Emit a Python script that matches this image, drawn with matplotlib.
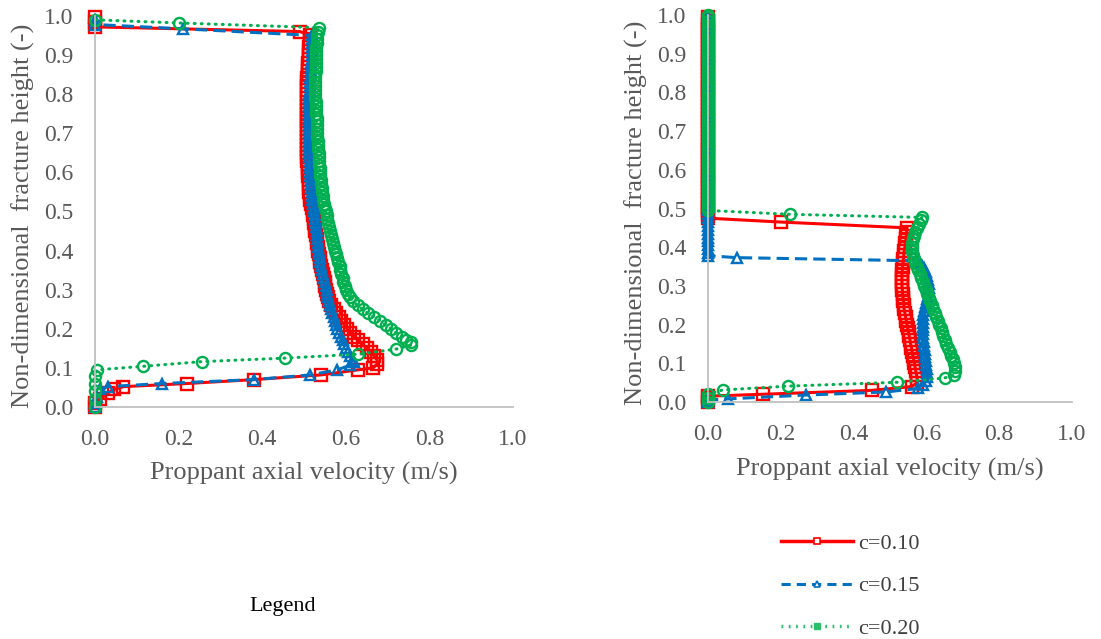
import matplotlib.pyplot as plt
from matplotlib.lines import Line2D

plt.rcParams['font.family'] = ['Liberation Serif', 'DejaVu Serif']

labels = ['c=0.10', 'c=0.15', 'c=0.20']
colors = ['#FF0000', '#0070C0', '#00B050']

# ---- case 1 (left panel): velocity (m/s) against non-dimensional height ----
a_red_v = [0.0, 0.0, 0.012, 0.03, 0.045, 0.068, 0.22, 0.38, 0.54, 0.63, 0.665, 0.675,
           0.675, 0.668, 0.66, 0.65, 0.64, 0.63, 0.62, 0.61, 0.603, 0.596, 0.589, 0.583,
           0.577, 0.571, 0.565, 0.56, 0.557, 0.555, 0.553, 0.551, 0.549, 0.547, 0.545, 0.542,
           0.54, 0.538, 0.537, 0.535, 0.534, 0.533, 0.531, 0.53, 0.529, 0.527, 0.526, 0.525,
           0.523, 0.522, 0.521, 0.519, 0.517, 0.515, 0.514, 0.513, 0.512, 0.511, 0.511, 0.51,
           0.51, 0.509, 0.509, 0.508, 0.508, 0.507, 0.507, 0.507, 0.506, 0.506, 0.506, 0.506,
           0.506, 0.506, 0.506, 0.506, 0.506, 0.506, 0.506, 0.506, 0.506, 0.507, 0.507, 0.508,
           0.508, 0.509, 0.509, 0.51, 0.51, 0.511, 0.511, 0.512, 0.513, 0.514, 0.515, 0.515,
           0.49, 0.0, 0.0, 0.0]
a_red_h = [0.0, 0.01, 0.02, 0.035, 0.045, 0.052, 0.06, 0.07, 0.082, 0.095, 0.10, 0.11,
           0.12, 0.13, 0.14, 0.15, 0.16, 0.17, 0.18, 0.19, 0.20, 0.21, 0.22, 0.23,
           0.24, 0.25, 0.26, 0.27, 0.28, 0.29, 0.30, 0.31, 0.32, 0.33, 0.34, 0.35,
           0.36, 0.37, 0.38, 0.39, 0.40, 0.41, 0.42, 0.43, 0.44, 0.45, 0.46, 0.47,
           0.48, 0.49, 0.50, 0.51, 0.52, 0.53, 0.54, 0.55, 0.56, 0.57, 0.58, 0.59,
           0.60, 0.61, 0.62, 0.63, 0.64, 0.65, 0.66, 0.67, 0.68, 0.69, 0.70, 0.71,
           0.72, 0.73, 0.74, 0.75, 0.76, 0.77, 0.78, 0.79, 0.80, 0.81, 0.82, 0.83,
           0.84, 0.85, 0.86, 0.87, 0.88, 0.89, 0.90, 0.91, 0.92, 0.93, 0.94, 0.95,
           0.96, 0.972, 0.985, 0.998]

a_blue_v = [0.0, 0.0, 0.005, 0.012, 0.03, 0.16, 0.38, 0.515, 0.58, 0.61, 0.62,
            0.617, 0.611, 0.605, 0.60, 0.596, 0.592, 0.588, 0.583, 0.58, 0.577, 0.574, 0.571,
            0.568, 0.565, 0.562, 0.56, 0.558, 0.556, 0.554, 0.552, 0.55, 0.548, 0.546, 0.543,
            0.541, 0.539, 0.538, 0.536, 0.535, 0.534, 0.533, 0.532, 0.531, 0.53, 0.529, 0.528,
            0.527, 0.526, 0.524, 0.523, 0.521, 0.52, 0.519, 0.518, 0.517, 0.516, 0.516, 0.515,
            0.515, 0.514, 0.514, 0.514, 0.513, 0.513, 0.513, 0.513, 0.513, 0.513, 0.513, 0.513,
            0.513, 0.513, 0.513, 0.513, 0.513, 0.513, 0.513, 0.513, 0.513, 0.514, 0.514, 0.515,
            0.515, 0.516, 0.516, 0.517, 0.517, 0.518, 0.518, 0.519, 0.519, 0.52, 0.52, 0.52,
            0.21, 0.0, 0.0]
a_blue_h = [0.0, 0.01, 0.025, 0.045, 0.052, 0.06, 0.07, 0.082, 0.095, 0.107, 0.115,
            0.12, 0.13, 0.14, 0.15, 0.16, 0.17, 0.18, 0.19, 0.20, 0.21, 0.22, 0.23,
            0.24, 0.25, 0.26, 0.27, 0.28, 0.29, 0.30, 0.31, 0.32, 0.33, 0.34, 0.35,
            0.36, 0.37, 0.38, 0.39, 0.40, 0.41, 0.42, 0.43, 0.44, 0.45, 0.46, 0.47,
            0.48, 0.49, 0.50, 0.51, 0.52, 0.53, 0.54, 0.55, 0.56, 0.57, 0.58, 0.59,
            0.60, 0.61, 0.62, 0.63, 0.64, 0.65, 0.66, 0.67, 0.68, 0.69, 0.70, 0.71,
            0.72, 0.73, 0.74, 0.75, 0.76, 0.77, 0.78, 0.79, 0.80, 0.81, 0.82, 0.83,
            0.84, 0.85, 0.86, 0.87, 0.88, 0.89, 0.90, 0.91, 0.92, 0.93, 0.94, 0.95,
            0.967, 0.978, 0.99]

a_green_v = [0.0, 0.0, 0.0, 0.0, 0.0, 0.005, 0.115, 0.255, 0.455, 0.63, 0.72, 0.755, 0.755,
             0.745, 0.735, 0.72, 0.708, 0.695, 0.682, 0.668, 0.652, 0.64, 0.628, 0.617, 0.61,
             0.605, 0.60, 0.597, 0.594, 0.592, 0.589, 0.587, 0.585, 0.582, 0.579, 0.577, 0.574,
             0.572, 0.569, 0.567, 0.565, 0.562, 0.56, 0.558, 0.556, 0.554, 0.552, 0.55, 0.548,
             0.546, 0.545, 0.543, 0.542, 0.541, 0.54, 0.539, 0.538, 0.537, 0.536, 0.536, 0.535,
             0.535, 0.534, 0.533, 0.533, 0.532, 0.532, 0.531, 0.531, 0.53, 0.53, 0.529, 0.529,
             0.528, 0.528, 0.527, 0.527, 0.527, 0.527, 0.527, 0.527, 0.527, 0.528, 0.528, 0.528,
             0.528, 0.529, 0.529, 0.529, 0.53, 0.53, 0.53, 0.533, 0.535, 0.2, 0.0]
a_green_h = [0.0, 0.02, 0.04, 0.06, 0.08, 0.095, 0.104, 0.116, 0.125, 0.135, 0.148, 0.158, 0.165,
             0.17, 0.18, 0.19, 0.20, 0.21, 0.22, 0.23, 0.24, 0.25, 0.26, 0.27, 0.28,
             0.29, 0.30, 0.31, 0.32, 0.33, 0.34, 0.35, 0.36, 0.37, 0.38, 0.39, 0.40,
             0.41, 0.42, 0.43, 0.44, 0.45, 0.46, 0.47, 0.48, 0.49, 0.50, 0.51, 0.52,
             0.53, 0.54, 0.55, 0.56, 0.57, 0.58, 0.59, 0.60, 0.61, 0.62, 0.63, 0.64,
             0.65, 0.66, 0.67, 0.68, 0.69, 0.70, 0.71, 0.72, 0.73, 0.74, 0.75, 0.76,
             0.77, 0.78, 0.79, 0.80, 0.81, 0.82, 0.83, 0.84, 0.85, 0.86, 0.87, 0.88,
             0.89, 0.90, 0.91, 0.92, 0.93, 0.94, 0.95, 0.96, 0.97, 0.982, 0.99]

# ---- case 2 (right panel) ----
b_red_v = [0.0, 0.0, 0.0, 0.15, 0.45, 0.56, 0.575,
           0.575, 0.573, 0.571, 0.569, 0.567, 0.565, 0.563, 0.561, 0.559, 0.557, 0.555, 0.553,
           0.551, 0.549, 0.547, 0.545, 0.543, 0.541, 0.539, 0.538, 0.537, 0.536, 0.535, 0.534,
           0.533, 0.533, 0.533, 0.533, 0.534, 0.535, 0.536, 0.537, 0.538, 0.539, 0.541, 0.542,
           0.544, 0.545, 0.546, 0.547, 0.2, 0.0]
b_red_h = [0.0, 0.01, 0.015, 0.02, 0.03, 0.04, 0.05,
           0.06, 0.07, 0.08, 0.09, 0.10, 0.11, 0.12, 0.13, 0.14, 0.15, 0.16, 0.17,
           0.18, 0.19, 0.20, 0.21, 0.22, 0.23, 0.24, 0.25, 0.26, 0.27, 0.28, 0.29,
           0.30, 0.31, 0.32, 0.33, 0.34, 0.35, 0.36, 0.37, 0.38, 0.39, 0.40, 0.41,
           0.42, 0.43, 0.44, 0.45, 0.465, 0.475]
# markers stacked on the wall (zero velocity) above the red knee
b_red_wall = [0.485, 0.495, 0.505, 0.515, 0.525, 0.535, 0.545, 0.555, 0.565, 0.575, 0.585,
              0.595, 0.605, 0.615, 0.625, 0.635, 0.645, 0.655, 0.665, 0.675, 0.685, 0.695,
              0.705, 0.715, 0.725, 0.735, 0.745, 0.755, 0.765, 0.775, 0.785, 0.795, 0.805,
              0.815, 0.825, 0.835, 0.845, 0.855, 0.865, 0.875, 0.885, 0.895, 0.905, 0.915,
              0.925, 0.935, 0.945, 0.955, 0.965, 0.975, 0.985, 0.995]

b_blue_v = [0.0, 0.0, 0.055, 0.27, 0.49, 0.577, 0.59,
            0.60, 0.602, 0.602, 0.601, 0.60, 0.598, 0.597, 0.596, 0.595, 0.594, 0.593, 0.592,
            0.591, 0.59, 0.59, 0.59, 0.59, 0.591, 0.593, 0.596, 0.599, 0.602, 0.605, 0.607,
            0.608, 0.607, 0.605, 0.602, 0.598, 0.594, 0.589, 0.582, 0.574, 0.08, 0.0]
b_blue_h = [0.0, 0.005, 0.008, 0.018, 0.026, 0.035, 0.045,
            0.055, 0.065, 0.075, 0.085, 0.095, 0.105, 0.115, 0.125, 0.135, 0.145, 0.155, 0.165,
            0.175, 0.185, 0.195, 0.205, 0.215, 0.225, 0.235, 0.245, 0.255, 0.265, 0.275, 0.285,
            0.295, 0.305, 0.315, 0.325, 0.335, 0.345, 0.352, 0.36, 0.365, 0.373, 0.378]
b_blue_wall = [0.385, 0.395, 0.405, 0.415, 0.425, 0.435, 0.445, 0.455, 0.465, 0.475, 0.485,
               0.495, 0.505, 0.515, 0.525, 0.535, 0.545, 0.555, 0.565, 0.575, 0.585, 0.595,
               0.605, 0.615, 0.625, 0.635, 0.645, 0.655, 0.665, 0.675, 0.685, 0.695, 0.705,
               0.715, 0.725, 0.735, 0.745, 0.755, 0.765, 0.775, 0.785, 0.795, 0.805, 0.815,
               0.825, 0.835, 0.845, 0.855, 0.865, 0.875, 0.885, 0.895, 0.905, 0.915, 0.925,
               0.935, 0.945, 0.955, 0.965, 0.975, 0.985, 0.995]

b_green_v = [0.0, 0.0, 0.0, 0.04, 0.22, 0.52, 0.65, 0.675, 0.68,
             0.678, 0.675, 0.672, 0.668, 0.664, 0.66, 0.655, 0.651, 0.647, 0.643, 0.639, 0.635,
             0.631, 0.627, 0.623, 0.619, 0.615, 0.611, 0.606, 0.602, 0.598, 0.594, 0.59, 0.586,
             0.582, 0.578, 0.574, 0.57, 0.566, 0.563, 0.561, 0.56, 0.561, 0.563, 0.566, 0.57,
             0.575, 0.58, 0.585, 0.588, 0.225, 0.0]
b_green_h = [0.0, 0.01, 0.02, 0.031, 0.041, 0.051, 0.062, 0.07, 0.08,
             0.09, 0.10, 0.11, 0.12, 0.13, 0.14, 0.15, 0.16, 0.17, 0.18, 0.19, 0.20,
             0.21, 0.22, 0.23, 0.24, 0.25, 0.26, 0.27, 0.28, 0.29, 0.30, 0.31, 0.32,
             0.33, 0.34, 0.35, 0.36, 0.37, 0.38, 0.39, 0.40, 0.41, 0.42, 0.43, 0.44,
             0.45, 0.46, 0.47, 0.477, 0.485, 0.495]
b_green_wall = [0.505, 0.515, 0.525, 0.535, 0.545, 0.555, 0.565, 0.575, 0.585, 0.595,
                0.605, 0.615, 0.625, 0.635, 0.645, 0.655, 0.665, 0.675, 0.685, 0.695,
                0.705, 0.715, 0.725, 0.735, 0.745, 0.755, 0.765, 0.775, 0.785, 0.795,
                0.805, 0.815, 0.825, 0.835, 0.845, 0.855, 0.865, 0.875, 0.885, 0.895,
                0.905, 0.915, 0.925, 0.935, 0.945, 0.955, 0.965, 0.975, 0.985, 0.995, 1.0]

ticks = [0.0, 0.1, 0.2, 0.3, 0.4, 0.5, 0.6, 0.7, 0.8, 0.9, 1.0]
xticks = [0.0, 0.2, 0.4, 0.6, 0.8, 1.0]

styles = [
    dict(ls='-', marker='s', ms=8, cap='butt'),
    dict(ls=(0, (4, 2)), marker='^', ms=7.5, cap='butt'),
    dict(ls=(0, (0.3, 2.0)), marker='o', ms=8, cap='round'),
]

fig = plt.figure(figsize=(11.01, 6.39), dpi=100)
ax1 = fig.add_axes([0.0863, 0.3631, 0.3797, 0.612])
ax2 = fig.add_axes([0.643, 0.3709, 0.3306, 0.6056])

left_series = [(a_red_v, a_red_h), (a_blue_v, a_blue_h), (a_green_v, a_green_h)]
right_series = [(b_red_v + [0.0] * len(b_red_wall), b_red_h + b_red_wall),
                (b_blue_v + [0.0] * len(b_blue_wall), b_blue_h + b_blue_wall),
                (b_green_v + [0.0] * len(b_green_wall), b_green_h + b_green_wall)]

panels = [(ax1, left_series, -0.143, -0.14), (ax2, right_series, -0.165, -0.145)]

for ax, series, ylab_x, xlab_y in panels:
    for (v, h), col, st in zip(series, colors, styles):
        ax.plot(v, h, color=col, lw=2.2, ls=st['ls'], marker=st['marker'], ms=st['ms'],
                mfc='none', mec=col, mew=1.7, clip_on=False, dash_capstyle=st['cap'])
    ax.set_xlim(0, 1.0)
    ax.set_ylim(0, 1.0)
    ax.set_xticks(xticks)
    ax.set_yticks(ticks)
    ax.set_xticklabels(['{:.1f}'.format(t) for t in xticks])
    ax.set_yticklabels(['{:.1f}'.format(t) for t in ticks])
    ax.tick_params(length=0, labelsize=17, labelcolor='#595959', pad=15.5)
    for s in ['top', 'right']:
        ax.spines[s].set_visible(False)
    for s in ['left', 'bottom']:
        ax.spines[s].set_color('#BFBFBF')
        ax.spines[s].set_linewidth(1.3)
    ax.set_xlabel('Proppant axial velocity (m/s)', fontsize=19, color='#595959')
    ax.set_ylabel('Non-dimensional  fracture height (-)', fontsize=19, color='#595959')
    ax.xaxis.set_label_coords(0.5, xlab_y)
    ax.yaxis.set_label_coords(ylab_x, 0.49)

handles = [
    Line2D([], [], color=colors[0], lw=2.5, ls='-', marker='s', ms=5, mfc='white', mec=colors[0], mew=1.2),
    Line2D([], [], color=colors[1], lw=2.2, ls=(0, (3, 2)), marker='^', ms=5, mfc='white', mec=colors[1], mew=1.2),
    Line2D([], [], color='#2DBE6C', lw=2.5, ls=(0, (0.5, 1.6)), marker='s', ms=5, mfc='#2DBE6C', mec='#2DBE6C'),
]
fig.legend(handles, labels, loc='upper left', bbox_to_anchor=(0.709, 0.1655), frameon=False,
           fontsize=16, handlelength=3.25, handletextpad=0.25, labelspacing=0.99,
           borderpad=0, borderaxespad=0, labelcolor='#404040')

fig.text(0.257, 0.051, 'Legend', fontsize=16, ha='center', va='center', color='black')

fig.savefig('out.png', dpi=100)
